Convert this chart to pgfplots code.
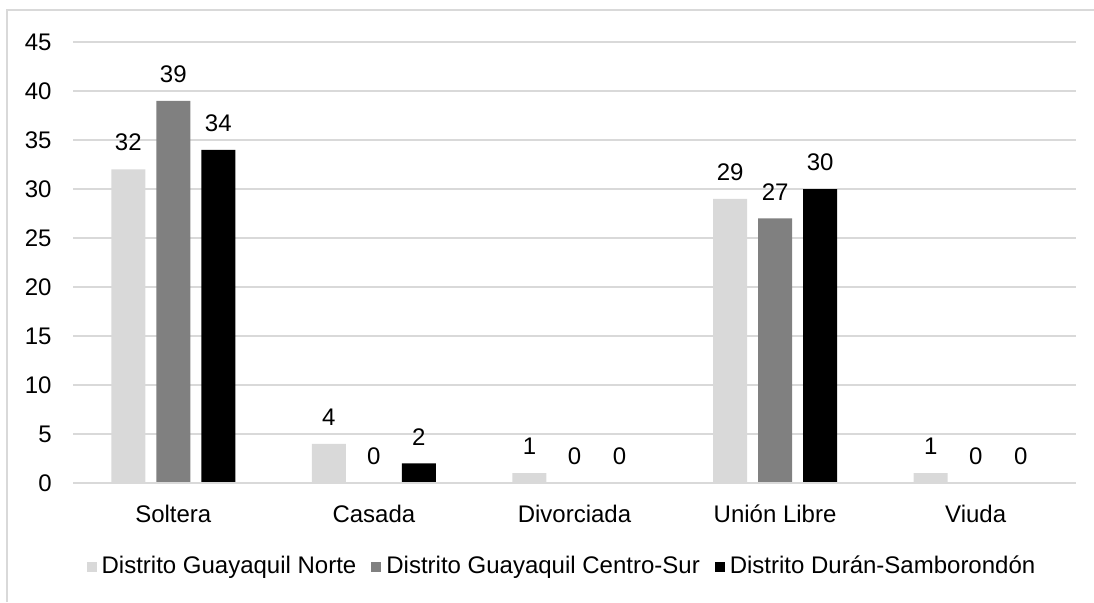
\documentclass[12pt,border=0pt]{standalone}
\usepackage{fontspec}
\setmainfont{Liberation Sans}
\usepackage{pgfplots}
\pgfplotsset{compat=1.18}
\definecolor{norte}{HTML}{D9D9D9}
\definecolor{centro}{HTML}{808080}
\definecolor{gridgray}{HTML}{D9D9D9}

\begin{document}
\begin{tikzpicture}
\useasboundingbox (0,0) rectangle (547pt,301pt);
\begin{axis}[
    at={(36.5pt,59.5pt)}, anchor=south west,
    scale only axis,
    width=501.5pt, height=220.5pt,
    ybar=5.5pt, bar width=17pt,
    xmin=-0.5, xmax=4.5,
    ymin=0, ymax=45,
    xtick={0,...,4},
    xticklabels={Soltera,Casada,Divorciada,Unión Libre,Viuda},
    ytick={0,5,...,45},
    axis line style={draw=none},
    major tick length=0pt,
    ymajorgrids,
    grid style={gridgray, line width=1pt},
    /pgf/number format/assume math mode=true,
    xticklabel style={inner sep=0pt, anchor=base, yshift=-19.5pt},
    yticklabel style={inner sep=0pt, anchor=east, xshift=-10.5pt},
    nodes near coords,
    every node near coord/.append style={inner sep=0pt, yshift=9pt},
    legend style={
        at={(0.4865,-0.19)}, anchor=center,
        draw=none, legend columns=-1,
        nodes={inner sep=0pt, anchor=west},
        /tikz/every odd column/.append style={column sep=2.5pt},
        /tikz/every even column/.append style={column sep=7.5pt},
    },
    legend image code/.code={\fill[#1] (0pt,-2.5pt) rectangle (5pt,2.5pt);},
]
\addplot[fill=norte, draw=none] coordinates {(0,32) (1,4) (2,1) (3,29) (4,1)};
\addlegendentry{Distrito Guayaquil Norte}
\addplot[fill=centro, draw=none] coordinates {(0,39) (1,0) (2,0) (3,27) (4,0)};
\addlegendentry{Distrito Guayaquil Centro-Sur}
\addplot[fill=black, draw=none] coordinates {(0,34) (1,2) (2,0) (3,30) (4,0)};
\addlegendentry{Distrito Durán-Samborondón}
% baseline drawn again so zero-height bars leave no trace
\draw[gridgray, line width=1pt] (axis cs:-0.5,0) -- (axis cs:4.5,0);
\end{axis}
\draw[gridgray, line width=1pt] (3.5pt,0) -- (3.5pt,296pt) -- (547pt,296pt);
\end{tikzpicture}
\end{document}
